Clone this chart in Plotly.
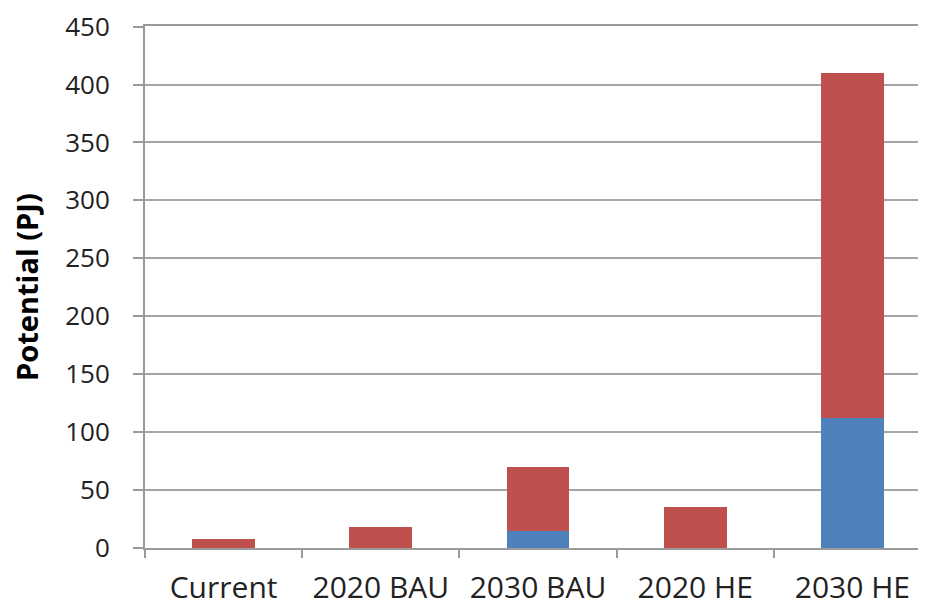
import plotly.graph_objects as go

categories = ["Current", "2020 BAU", "2030 BAU", "2020 HE", "2030 HE"]
blue_values = [0, 0, 15, 0, 112]
red_values = [8, 18, 55, 35, 298]
y_ticks = [0, 50, 100, 150, 200, 250, 300, 350, 400, 450]
y_title = "Potential (PJ)"

fig = go.Figure()
fig.add_trace(go.Bar(x=categories, y=blue_values, marker=dict(color="#4F81BD", line=dict(width=0)), name="A"))
fig.add_trace(go.Bar(x=categories, y=red_values, marker=dict(color="#C0504D", line=dict(width=0)), name="B"))

font_family = "Open Sans, DejaVu Sans, sans-serif"
fig.update_layout(
    barmode="stack",
    bargap=0.6,
    width=926, height=607,
    margin=dict(l=137, r=3, t=18, b=67, autoexpand=False),
    paper_bgcolor="white", plot_bgcolor="white",
    showlegend=False,
    font=dict(family=font_family, color="#222222"),
)
fig.update_xaxes(
    automargin=False,
    showline=True, mirror=True, linecolor="#9a9a9a", linewidth=2,
    ticks="outside", tickson="boundaries", ticklen=8, tickcolor="#9a9a9a", tickwidth=2,
    tickfont=dict(size=30, family=font_family, color="#222222"),
    ticklabelstandoff=12,
    showgrid=False,
)
fig.update_yaxes(
    automargin=False,
    range=[0, 450.5], tickvals=y_ticks,
    showline=True, linecolor="#9a9a9a", linewidth=2,
    ticks="outside", ticklen=10, tickcolor="#9a9a9a", tickwidth=2,
    showgrid=True, gridcolor="#a6a6a6", gridwidth=1.5,
    zeroline=False,
    ticklabeloverflow="allow",
    tickfont=dict(size=26, family=font_family, color="#222222"),
    ticklabelstandoff=18,
)
fig.add_annotation(
    text="<b>" + y_title + "</b>", textangle=-90,
    xref="paper", yref="paper", x=0, y=0.5, xanchor="center", yanchor="middle",
    xshift=-119, showarrow=False,
    font=dict(size=29, family=font_family, color="#000000"),
)
fig.write_html("out.html")
